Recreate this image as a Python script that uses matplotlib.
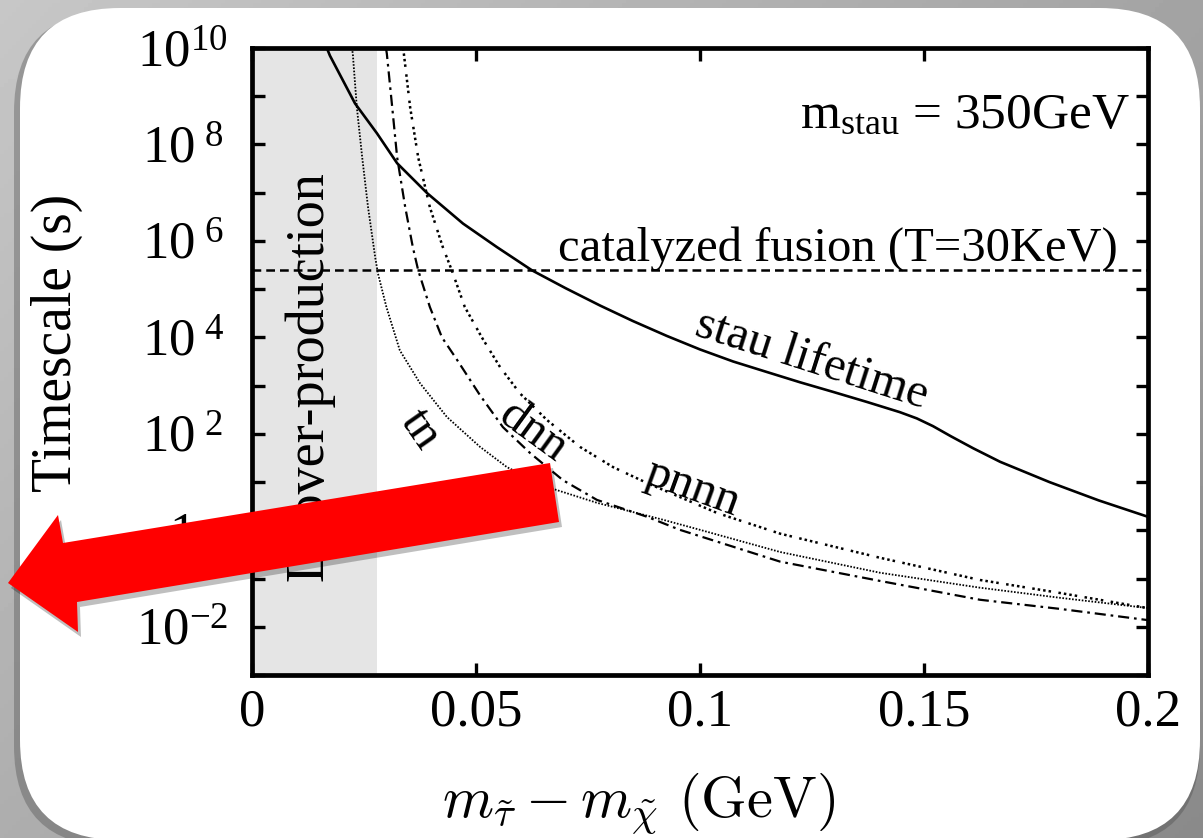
import numpy as np
import matplotlib
matplotlib.use('Agg')
from matplotlib import pyplot as plt
from matplotlib.patches import FancyBboxPatch, Polygon
from matplotlib.ticker import NullLocator

plt.rcParams['font.family'] = ['Liberation Serif', 'DejaVu Serif']
plt.rcParams['mathtext.fontset'] = 'custom'
plt.rcParams['mathtext.rm'] = 'Liberation Serif'
plt.rcParams['mathtext.it'] = 'Liberation Serif:italic'
plt.rcParams['mathtext.bf'] = 'Liberation Serif:bold'

# values: x is mass splitting (GeV), y is log10 of timescale (s)
stau_x = [0.0167, 0.0174, 0.0230, 0.0279, 0.0324, 0.0391, 0.0471, 0.0547, 0.0625, 0.0700,
          0.0777, 0.0850, 0.0926, 0.1000, 0.1074, 0.1150, 0.1223, 0.1297, 0.1373, 0.1446,
          0.1484, 0.1520, 0.1560, 0.1610, 0.1670, 0.1780, 0.1890, 0.2000]
stau_log = [10.0, 9.84, 8.85, 8.23, 7.61, 6.99, 6.36, 5.87, 5.39, 5.02,
            4.66, 4.34, 4.03, 3.75, 3.50, 3.28, 3.07, 2.87, 2.66, 2.45,
            2.32, 2.16, 1.95, 1.70, 1.42, 1.00, 0.62, 0.28]

tn_x = [0.0223, 0.0225, 0.0234, 0.0246, 0.0259, 0.0275, 0.0281, 0.0300, 0.0330, 0.0375,
        0.0435, 0.0509, 0.0569, 0.0658, 0.0770, 0.0917, 0.1000, 0.1179, 0.1402, 0.1625,
        0.1804, 0.1998]
tn_log = [10.0, 9.88, 8.77, 7.73, 6.70, 5.66, 5.33, 4.63, 3.73, 3.05,
          2.35, 1.73, 1.31, 0.90, 0.57, 0.22, 0.01, -0.45, -0.88, -1.19,
          -1.40, -1.61]

dnn_x = [0.0299, 0.0301, 0.0313, 0.0324, 0.0342, 0.0359, 0.0371, 0.0397, 0.0424, 0.0458,
         0.0509, 0.0560, 0.0621, 0.0694, 0.0770, 0.0882, 0.0955, 0.1179, 0.1402, 0.1625,
         0.1804, 0.1998]
dnn_log = [10.0, 9.88, 8.77, 7.73, 6.70, 5.87, 5.39, 4.63, 4.00, 3.53,
           2.80, 2.14, 1.60, 1.04, 0.63, 0.28, 0.01, -0.65, -1.05, -1.44,
           -1.63, -1.86]

pnnn_x = [0.0337, 0.0339, 0.0353, 0.0371, 0.0397, 0.0426, 0.0446, 0.0475, 0.0513, 0.0554,
          0.0598, 0.0658, 0.0732, 0.0806, 0.0882, 0.0955, 0.1038, 0.1179, 0.1402, 0.1625,
          0.1804, 0.1998]
pnnn_log = [10.0, 9.88, 8.77, 7.73, 6.70, 5.87, 5.39, 4.63, 4.00, 3.38,
            2.84, 2.29, 1.73, 1.31, 0.98, 0.69, 0.36, -0.07, -0.57, -1.03,
            -1.30, -1.61]

fusion_time = 2.5e5
li_limit = 0.028

x_ticks = [0, 0.05, 0.1, 0.15, 0.2]
x_tick_labels = ['0', '0.05', '0.1', '0.15', '0.2']
y_tick_exps = list(range(-3, 11))
y_tick_labels = ['', r'$10^{-2}$', '', '1', '', r'$10^{\ 2}$', '', r'$10^{\ 4}$',
                 '', r'$10^{\ 6}$', '', r'$10^{\ 8}$', '', r'$10^{10}$']

W, H = 1203, 838
fig = plt.figure(figsize=(W / 100, H / 100), dpi=100)

# slide background: grey gradient with a white rounded card
bg = fig.add_axes([0, 0, 1, 1])
bg.set_xlim(0, W)
bg.set_ylim(H, 0)
bg.axis('off')
gx, gy = np.meshgrid(np.linspace(0, 1, 300), np.linspace(0, 1, 200))
grad = 0.78 - 0.14 * gx - 0.10 * gy
bg.imshow(grad, extent=(0, W, H, 0), cmap='gray', vmin=0, vmax=1, aspect='auto')
bg.add_patch(FancyBboxPatch((14, 12), 1186, 834, boxstyle='round,pad=0,rounding_size=100',
                            fc='#444444', ec='none', alpha=0.35))
bg.add_patch(FancyBboxPatch((20, 8), 1180, 832, boxstyle='round,pad=0,rounding_size=100',
                            fc='white', ec='none'))

ax = fig.add_axes([252 / W, 1 - 675 / H, 896 / W, 627 / H])
ax.set_facecolor('white')
ax.axvspan(0, li_limit, color='#e5e5e5', lw=0, zorder=0)
ax.axhline(fusion_time, color='black', lw=1.8, ls=(0, (3.5, 2)))

ax.plot(stau_x, 10 ** np.array(stau_log), color='black', lw=1.9)
ax.plot(tn_x, 10 ** np.array(tn_log), color='black', lw=1.3, ls=(0, (0.9, 0.9)))
ax.plot(dnn_x, 10 ** np.array(dnn_log), color='black', lw=1.6, ls=(0, (5, 2.2, 1.2, 2.2)))
ax.plot(pnnn_x, 10 ** np.array(pnnn_log), color='black', lw=1.8,
        ls=(0, (1, 1.2, 1, 1.2, 1, 1.2, 1, 3)))

ax.set_yscale('log')
ax.set_xlim(0, 0.2)
ax.set_ylim(1e-3, 1e10)
ax.set_xticks(x_ticks, x_tick_labels)
ax.set_yticks([10.0 ** e for e in y_tick_exps], y_tick_labels)
ax.yaxis.set_minor_locator(NullLocator())
ax.tick_params(direction='in', length=9, width=2.4, top=True, right=True, labelsize=38)
ax.tick_params(axis='x', pad=10)
ax.tick_params(axis='y', pad=50)
for lab in ax.get_yticklabels():
    lab.set_horizontalalignment('center')
for s in ax.spines.values():
    s.set_linewidth(3.4)

ax.set_ylabel('Timescale (s)', fontsize=40)
ax.yaxis.set_label_coords(-0.2176, 0.53)
ax.yaxis.label.set_va('center')
ax.set_xlabel(r'$m_{\tilde{\tau}} - m_{\tilde{\chi}}\ (\mathrm{GeV})$', fontsize=42,
              math_fontfamily='cm')
ax.xaxis.set_label_coords(0.431, -0.205)
ax.xaxis.label.set_va('center')

ax.text(0.1933, 10 ** 5.60, 'catalyzed fusion (T=30KeV)', fontsize=35, ha='right', va='baseline')
ax.text(0.196, 10 ** 8.33, r'm$_{\mathrm{stau}}$ = 350GeV', fontsize=37, ha='right', va='baseline')
ax.text(0.0132, 10 ** 3.16, 'Li over-production', fontsize=39, rotation=90, ha='center', va='center')
ax.text(0.125, 10 ** 3.53, 'stau lifetime', fontsize=35, rotation=-17.7, ha='center', va='center',
        rotation_mode='anchor')
ax.text(0.0375, 10 ** 2.08, 'tn', fontsize=35, rotation=-55, ha='center', va='center',
        rotation_mode='anchor')
ax.text(0.0627, 10 ** 2.04, 'dnn', fontsize=35, rotation=-36, ha='center', va='center',
        rotation_mode='anchor')
ax.text(0.0984, 10 ** 0.88, 'pnnn', fontsize=35, rotation=-20, ha='center', va='center',
        rotation_mode='anchor')

# red arrow pasted over the slide
top = fig.add_axes([0, 0, 1, 1], zorder=10)
top.set_xlim(0, W)
top.set_ylim(H, 0)
top.axis('off')
arrow = [(8, 583), (58, 515), (63, 543), (550, 463), (559, 522), (77, 602), (78, 632)]
top.add_patch(Polygon([(x + 3, y + 5) for x, y in arrow], closed=True, fc='black', ec='none', alpha=0.25))
top.add_patch(Polygon(arrow, closed=True, fc='#ff0000', ec='none'))

fig.savefig('out.png', dpi=100)
